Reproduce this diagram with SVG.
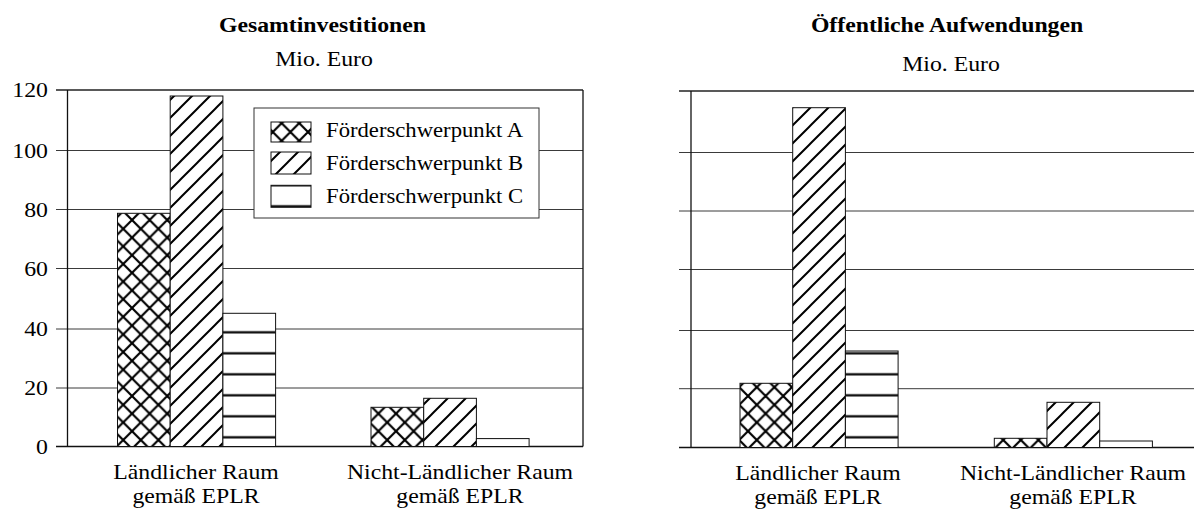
<svg xmlns="http://www.w3.org/2000/svg" width="1194" height="511" viewBox="0 0 1194 511">
<style>
.t{font-family:"Liberation Serif","Times New Roman",serif;font-size:22px;fill:#000}
.b{font-weight:bold}
.m{text-anchor:middle}
.e{text-anchor:end}
.lg{font-size:21px}
.grid{stroke:#3a3a3a;stroke-width:1;fill:none}
.top{stroke:#222;stroke-width:1.6;fill:none}
.ax{stroke:#111;stroke-width:1.3;fill:none}
.bar{stroke:#111;stroke-width:1}
.pA{fill:url(#pA)}
.pB{fill:url(#pB)}
.pC{fill:url(#pC)}
</style>
<defs>
<pattern id="pA" patternUnits="userSpaceOnUse" x="0" y="0" width="17.6" height="17.6">
<rect width="17.6" height="17.6" fill="#fff"/>
<path d="M-2,-2 L19.6,19.6 M-2,19.6 L19.6,-2 M-2,15.6 L2,19.6 M15.6,-2 L19.6,2 M-2,2 L2,-2 M15.6,19.6 L19.6,15.6" stroke="#000" stroke-width="2.2"/>
</pattern>
<pattern id="pB" patternUnits="userSpaceOnUse" x="0" y="0" width="18" height="18">
<rect width="18" height="18" fill="#fff"/>
<path d="M-2,20 L20,-2 M-2,2 L2,-2 M16,20 L20,16" stroke="#000" stroke-width="2"/>
</pattern>
<pattern id="pC" patternUnits="userSpaceOnUse" x="0" y="6.8" width="40" height="21">
<rect width="40" height="21" fill="#fff"/>
<rect x="0" y="9.4" width="40" height="2.2" fill="#000"/>
</pattern>
</defs>
<rect width="1194" height="511" fill="#fff"/>

<g id="chart-left">
<g id="left-grid">
<line class="top" x1="56" y1="90" x2="583" y2="90"/>
<path class="grid" d="M56,150.5H583 M56,209.5H583 M56,268.5H583 M56,329H583 M56,388H583"/>
<line class="ax" x1="67.5" y1="90" x2="67.5" y2="446.5"/>
<line class="ax" x1="56" y1="446.5" x2="583" y2="446.5"/>
<line class="ax" x1="583" y1="90" x2="583" y2="446.5"/>
</g>
<g id="left-bars">
<rect class="bar pA" x="117.5" y="213.3" width="52.7" height="233.2"/>
<rect class="bar pB" x="170.2" y="96" width="52.7" height="350.5"/>
<rect class="bar pC" x="222.9" y="313.3" width="52.7" height="133.2"/>
<rect class="bar pA" x="371" y="407.3" width="52.7" height="39.2"/>
<rect class="bar pB" x="423.7" y="398.3" width="52.7" height="48.2"/>
<rect class="bar pC" x="476.4" y="438.6" width="52.7" height="7.9"/>
</g>
<g id="legend">
<rect x="254" y="108" width="285" height="110" fill="#fff" stroke="#333" stroke-width="1"/>
<rect class="bar pA" x="271" y="122" width="40" height="20"/>
<rect class="bar pB" x="271" y="152" width="40" height="22"/>
<rect class="bar pC" x="271" y="185.3" width="40" height="22"/>
</g>
</g>

<g id="chart-right">
<g id="right-grid">
<line class="top" x1="679" y1="91" x2="1194" y2="91"/>
<path class="grid" d="M679,152.5H1194 M679,211H1194 M679,269.5H1194 M679,330.5H1194 M679,388.7H1194"/>
<line class="ax" x1="691" y1="91" x2="691" y2="447.5"/>
<line class="ax" x1="679" y1="447.5" x2="1194" y2="447.5"/>
</g>
<g id="right-bars">
<rect class="bar pA" x="740" y="383.3" width="52.7" height="64.2"/>
<rect class="bar pB" x="792.7" y="107.7" width="52.7" height="339.8"/>
<rect class="bar pC" x="845.4" y="351" width="52.7" height="96.5"/>
<rect class="bar pA" x="994.3" y="438.3" width="52.7" height="9.2"/>
<rect class="bar pB" x="1047" y="402.3" width="52.7" height="45.2"/>
<rect class="bar pC" x="1099.7" y="441" width="52.7" height="6.5"/>
</g>
</g>

<g id="texts" transform="scale(1.08,1)">
<text class="t b m" x="298.6" y="32">Gesamtinvestitionen</text>
<text class="t m" x="300" y="66.5">Mio. Euro</text>
<text class="t b m" x="876.9" y="32">Öffentliche Aufwendungen</text>
<text class="t m" x="880.6" y="71">Mio. Euro</text>
<g id="y-labels">
<text class="t e" x="44.4" y="97.5">120</text>
<text class="t e" x="44.4" y="158">100</text>
<text class="t e" x="44.4" y="217">80</text>
<text class="t e" x="44.4" y="276">60</text>
<text class="t e" x="44.4" y="336.5">40</text>
<text class="t e" x="44.4" y="395.5">20</text>
<text class="t e" x="44.4" y="454">0</text>
</g>
<g id="legend-labels">
<text class="t lg" x="301.9" y="137.5">Förderschwerpunkt A</text>
<text class="t lg" x="301.9" y="170">Förderschwerpunkt B</text>
<text class="t lg" x="301.9" y="203">Förderschwerpunkt C</text>
</g>
<g id="x-labels">
<text class="t m" x="181.5" y="479">Ländlicher Raum</text>
<text class="t m" x="181.5" y="503.5">gemäß EPLR</text>
<text class="t m" x="425.9" y="479">Nicht-Ländlicher Raum</text>
<text class="t m" x="425.9" y="503.5">gemäß EPLR</text>
<text class="t m" x="757.4" y="480">Ländlicher Raum</text>
<text class="t m" x="757.4" y="504.5">gemäß EPLR</text>
<text class="t m" x="993.5" y="480">Nicht-Ländlicher Raum</text>
<text class="t m" x="993.5" y="504.5">gemäß EPLR</text>
</g>
</g>
</svg>
